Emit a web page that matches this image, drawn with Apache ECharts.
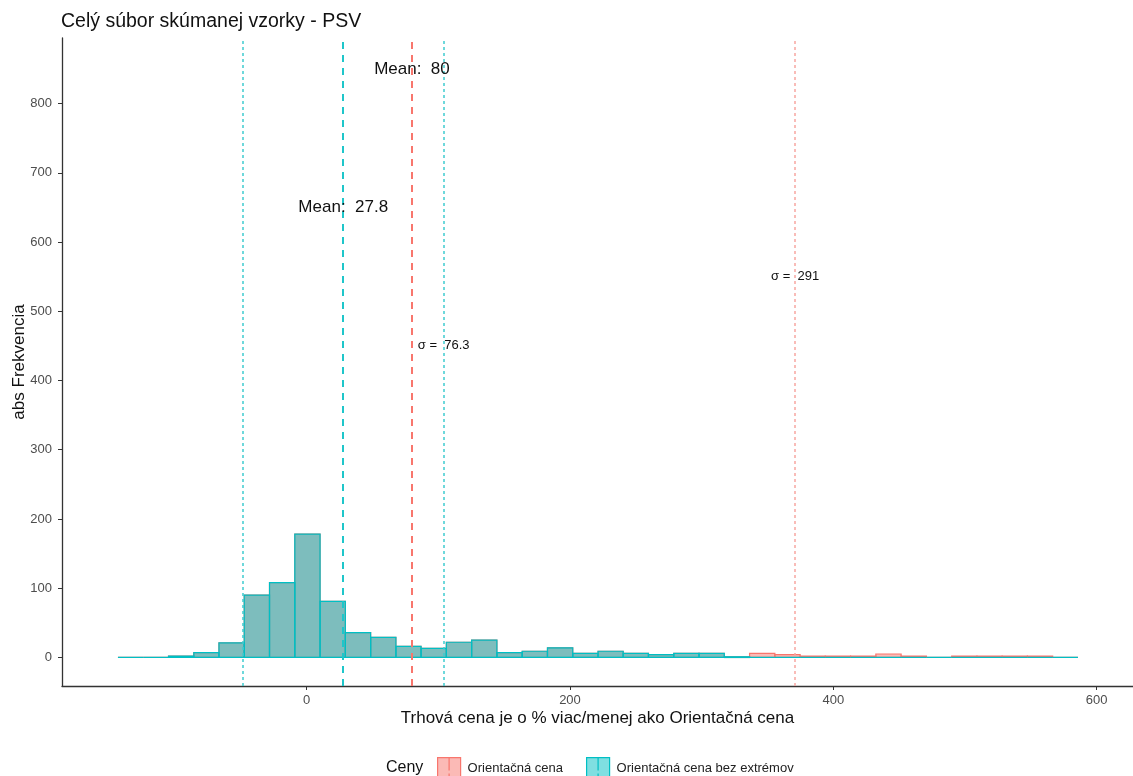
<!DOCTYPE html>
<html>
<head>
<meta charset="utf-8">
<script src="https://cdn.jsdelivr.net/npm/echarts@6/dist/echarts.min.js"></script>
<style>
  html, body { margin: 0; padding: 0; background: #ffffff; }
  #chart { width: 1133px; height: 776px; }
</style>
</head>
<body>
<div id="chart"></div>
<script>
// ---- data ----
const binEdges = [-143.3, -124.1, -104.9, -85.7, -66.6, -47.4, -28.2, -9.0, 10.2, 29.4,
  48.6, 67.8, 86.9, 106.1, 125.3, 144.5, 163.7, 182.9, 202.1, 221.3,
  240.4, 259.6, 278.8, 298.0, 317.2, 336.4, 355.6, 374.8, 393.9, 413.1,
  432.3, 451.5, 470.7, 489.9, 509.1, 528.2, 547.4, 566.6, 585.8];
const countsAll = [0, 0, 2, 7, 21, 90, 108, 178, 81, 36,
  29, 16, 13, 22, 25, 7, 9, 14, 6, 9,
  6, 4, 6, 6, 1, 6, 4, 2, 2, 2,
  5, 2, 0, 2, 2, 2, 2, 0];
const countsNoExtremes = [0, 0, 2, 7, 21, 90, 108, 178, 81, 36,
  29, 16, 13, 22, 25, 7, 9, 14, 6, 9,
  6, 4, 6, 6, 1, 0, 0, 0, 0, 0,
  0, 0, 0, 0, 0, 0, 0, 0];
const seriesNames = ['Orientačná cena', 'Orientačná cena bez extrémov'];
const means = [80, 27.8];
const sds = [291, 76.3];
const meanLabelY = [850, 650];
const sdLabelY = [550, 450];
const meanLabelText = ['Mean:  80', 'Mean:  27.8'];
const sdLabelText = ['σ =  291', 'σ =  76.3'];
const xTicks = [0, 200, 400, 600];
const yTicks = [0, 100, 200, 300, 400, 500, 600, 700, 800];
const titleText = 'Celý súbor skúmanej vzorky - PSV';
const xName = 'Trhová cena je o % viac/menej ako Orientačná cena';
const yName = 'abs Frekvencia';
const legendTitle = 'Ceny';

// ---- styling ----
const FONT = "'Liberation Sans', Arial, sans-serif";
const RED = '#F8766D';
const TEAL = '#00BFC4';
const fills = ['rgba(248,118,109,0.5)', 'rgba(0,191,196,0.5)'];
const strokes = [RED, TEAL];
const meanLineColors = ['#F8766D', '#1FC6CA'];
const sdLineColors = ['#F7A7A1', '#3FCBCF'];
const TEXT = '#111111';
const X_MIN = -185.8, X_MAX = 627.6, Y_MIN = -41.2, Y_MAX = 894.6;

function histData(counts) {
  return counts.map((c, i) => [binEdges[i], binEdges[i + 1], c]);
}
function makeRender(idx) {
  return function (params, api) {
    const x0 = api.value(0), x1 = api.value(1), c = api.value(2);
    const p0 = api.coord([x0, c]);
    const p1 = api.coord([x1, 0]);
    return {
      type: 'rect',
      shape: { x: p0[0], y: p0[1], width: p1[0] - p0[0], height: p1[1] - p0[1] },
      style: { fill: fills[idx], stroke: strokes[idx], lineWidth: 1.2 }
    };
  };
}

// vertical reference lines
const lineData = [];
[0, 1].forEach(i => {
  lineData.push({ xAxis: means[i], lineStyle: { color: meanLineColors[i], width: 2, type: [7, 6], opacity: 1 } });
  [means[i] - sds[i], means[i] + sds[i]].forEach(v => {
    if (v > X_MIN && v < X_MAX) {
      lineData.push({ xAxis: v, lineStyle: { color: sdLineColors[i], width: 1.5, type: [3, 3], opacity: 1 } });
    }
  });
});

// annotations
const annot = [];
[0, 1].forEach(i => {
  annot.push({ value: [means[i], meanLabelY[i], meanLabelText[i]], label: { fontSize: 17, color: TEXT } });
  annot.push({ value: [means[i] + sds[i], sdLabelY[i], sdLabelText[i]], label: { fontSize: 13, color: TEXT } });
});

const legendIcon = 'path://M0,0H23V22H0ZM11.5,0V13M11.5,16V22';

const option = {
  animation: false,
  backgroundColor: '#ffffff',
  textStyle: { fontFamily: FONT },
  title: [
    { text: titleText, left: 56, top: 7, textStyle: { fontFamily: FONT, fontSize: 19.5, fontWeight: 'normal', color: TEXT } },
    { text: legendTitle, left: 381, top: 755, textStyle: { fontFamily: FONT, fontSize: 16, fontWeight: 'normal', color: TEXT } }
  ],
  legend: {
    left: 432, top: 752,
    itemWidth: 23, itemHeight: 22, itemGap: 23,
    textStyle: { fontFamily: FONT, fontSize: 13, color: '#222222', padding: [0, 0, 0, 2] },
    data: seriesNames.map((n, i) => ({ name: n, icon: legendIcon, itemStyle: { color: fills[i], borderColor: strokes[i], borderWidth: 1.2 } }))
  },
  grid: { left: 62, right: 0, top: 38, bottom: 90, containLabel: false, outerBoundsMode: 'none' },
  xAxis: {
    type: 'value', min: X_MIN, max: X_MAX,
    name: xName, nameLocation: 'middle', nameGap: 24, nameMoveOverlap: false,
    nameTextStyle: { fontFamily: FONT, fontSize: 17, color: TEXT },
    axisLine: { onZero: false, lineStyle: { color: '#333333', width: 1.3 } },
    axisTick: { show: true, length: 4, customValues: xTicks, lineStyle: { color: '#333333' } },
    axisLabel: { customValues: xTicks, margin: 8, fontSize: 13, color: '#4D4D4D', fontFamily: FONT },
    splitLine: { show: false }
  },
  yAxis: {
    type: 'value', min: Y_MIN, max: Y_MAX,
    name: yName, nameLocation: 'middle', nameGap: 34, nameRotate: 90, nameMoveOverlap: false,
    nameTextStyle: { fontFamily: FONT, fontSize: 17, color: TEXT },
    axisLine: { show: true, onZero: false, lineStyle: { color: '#333333', width: 1.3 } },
    axisTick: { show: true, length: 4, customValues: yTicks, lineStyle: { color: '#333333' } },
    axisLabel: { customValues: yTicks, margin: 10, fontSize: 13, color: '#4D4D4D', fontFamily: FONT },
    splitLine: { show: false }
  },
  series: [
    {
      type: 'custom', name: seriesNames[0], renderItem: makeRender(0),
      encode: { x: [0, 1], y: 2 }, data: histData(countsAll), z: 2,
      itemStyle: { color: fills[0], borderColor: strokes[0] }
    },
    {
      type: 'custom', name: seriesNames[1], renderItem: makeRender(1),
      encode: { x: [0, 1], y: 2 }, data: histData(countsNoExtremes), z: 3,
      itemStyle: { color: fills[1], borderColor: strokes[1] }
    },
    {
      type: 'line', name: 'lines', data: [], z: 5, silent: true,
      markLine: { symbol: 'none', silent: true, label: { show: false }, data: lineData, animation: false }
    },
    {
      type: 'scatter', name: 'annot', z: 6, silent: true, symbolSize: 0,
      itemStyle: { opacity: 1 },
      data: annot,
      label: {
        show: true, position: 'inside', color: TEXT, fontFamily: FONT, opacity: 1,
        formatter: p => p.value[2]
      }
    }
  ]
};

const chart = echarts.init(document.getElementById('chart'), null, { renderer: 'canvas' });
chart.setOption(option);
</script>
</body>
</html>
